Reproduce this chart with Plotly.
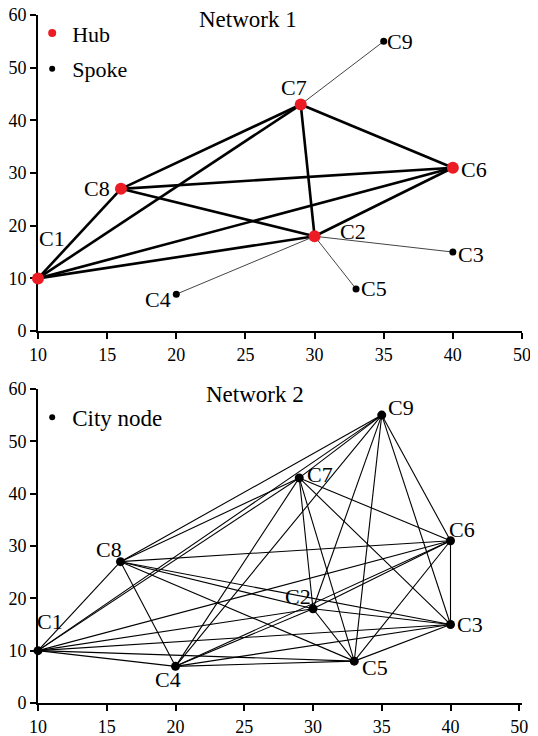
import plotly.graph_objects as go

# ---------------- data ----------------
nodes = ["C1", "C2", "C3", "C4", "C5", "C6", "C7", "C8", "C9"]
node_x = [10, 30, 40, 20, 33, 40, 29, 16, 35]
node_y = [10, 18, 15, 7, 8, 31, 43, 27, 55]

hubs = ["C1", "C2", "C6", "C7", "C8"]
spokes = ["C3", "C4", "C5", "C9"]

hub_edges = [("C1", "C2"), ("C1", "C6"), ("C1", "C7"), ("C1", "C8"),
             ("C2", "C6"), ("C2", "C7"), ("C2", "C8"),
             ("C6", "C7"), ("C6", "C8"), ("C7", "C8")]
spoke_edges = [("C9", "C7"), ("C3", "C2"), ("C5", "C2"), ("C4", "C2")]

net2_edges = [
    ("C1", "C2"), ("C1", "C3"), ("C1", "C4"), ("C1", "C5"), ("C1", "C6"), ("C1", "C7"), ("C1", "C8"), ("C1", "C9"),
    ("C2", "C3"), ("C2", "C4"), ("C2", "C5"), ("C2", "C6"), ("C2", "C7"), ("C2", "C8"), ("C2", "C9"),
    ("C3", "C4"), ("C3", "C5"), ("C3", "C6"), ("C3", "C7"), ("C3", "C8"), ("C3", "C9"),
    ("C4", "C5"), ("C4", "C6"), ("C4", "C7"), ("C4", "C8"), ("C4", "C9"),
    ("C5", "C6"), ("C5", "C7"), ("C5", "C8"), ("C5", "C9"),
    ("C6", "C7"), ("C6", "C8"), ("C6", "C9"),
    ("C7", "C8"), ("C7", "C9"),
    ("C8", "C9"),
]

x_tickvals = [10, 15, 20, 25, 30, 35, 40, 45]
x_ticktext = ["10", "15", "20", "25", "30", "35", "40", "50"]
y_tickvals = [0, 10, 20, 30, 40, 50, 60]

titles = ["Network 1", "Network 2"]

# ---------------- styles ----------------
FONT = "Liberation Serif, Times New Roman, serif"
RED = "rgb(236,28,36)"
label_off_1 = {"C1": (14, -40), "C8": (-24, 0), "C7": (-7, -17), "C6": (21, 2), "C9": (16, 0),
               "C2": (38, -5), "C3": (18, 2), "C5": (18, 0), "C4": (-18, 5)}
label_off_2 = {"C1": (12, -29), "C8": (-12, -12), "C4": (-8, 13), "C2": (-15, -12), "C7": (21, -3),
               "C9": (19, -8), "C6": (11, -11), "C3": (19, 0), "C5": (21, 6)}

X = dict(zip(nodes, node_x))
Y = dict(zip(nodes, node_y))


def edge_xy(edges):
    xs, ys = [], []
    for a, b in edges:
        xs += [X[a], X[b], None]
        ys += [Y[a], Y[b], None]
    return xs, ys


fig = go.Figure()

# ---- Network 1 ----
ex, ey = edge_xy(spoke_edges)
fig.add_trace(go.Scatter(x=ex, y=ey, mode="lines", line=dict(color="#444444", width=1),
                         showlegend=False, hoverinfo="skip", xaxis="x", yaxis="y", cliponaxis=False))
ex, ey = edge_xy(hub_edges)
fig.add_trace(go.Scatter(x=ex, y=ey, mode="lines", line=dict(color="black", width=2.6),
                         showlegend=False, hoverinfo="skip", xaxis="x", yaxis="y", cliponaxis=False))
fig.add_trace(go.Scatter(x=[X[n] for n in spokes], y=[Y[n] for n in spokes], mode="markers",
                         marker=dict(color="black", size=7), showlegend=False,
                         xaxis="x", yaxis="y", cliponaxis=False))
fig.add_trace(go.Scatter(x=[X[n] for n in hubs], y=[Y[n] for n in hubs], mode="markers",
                         marker=dict(color=RED, size=12), showlegend=False,
                         xaxis="x", yaxis="y", cliponaxis=False))
# legend entries
fig.add_trace(go.Scatter(x=[None], y=[None], mode="markers", marker=dict(color=RED, size=8),
                         name="Hub", legend="legend", legendgroup="a", xaxis="x", yaxis="y"))
fig.add_trace(go.Scatter(x=[None], y=[None], mode="markers", marker=dict(color="black", size=6),
                         name="Spoke", legend="legend", legendgroup="b", xaxis="x", yaxis="y"))

# ---- Network 2 ----
ex, ey = edge_xy(net2_edges)
fig.add_trace(go.Scatter(x=ex, y=ey, mode="lines", line=dict(color="black", width=1.1),
                         showlegend=False, hoverinfo="skip", xaxis="x2", yaxis="y2", cliponaxis=False))
fig.add_trace(go.Scatter(x=node_x, y=node_y, mode="markers", marker=dict(color="black", size=9),
                         showlegend=False, xaxis="x2", yaxis="y2", cliponaxis=False))
fig.add_trace(go.Scatter(x=[None], y=[None], mode="markers", marker=dict(color="black", size=6),
                         name="City node", legend="legend2", xaxis="x2", yaxis="y2"))

LABEL_SIZE = 22
annotations = []
for n in nodes:
    dx, dy = label_off_1[n]
    annotations.append(dict(x=X[n], y=Y[n], xref="x", yref="y", text=n, showarrow=False,
                            xshift=dx, yshift=-dy, font=dict(family=FONT, size=LABEL_SIZE, color="black")))
    dx, dy = label_off_2[n]
    annotations.append(dict(x=X[n], y=Y[n], xref="x2", yref="y2", text=n, showarrow=False,
                            xshift=dx, yshift=-dy, font=dict(family=FONT, size=LABEL_SIZE, color="black")))

annotations.append(dict(x=0.434, y=0.994, xref="paper", yref="paper", text=titles[0], showarrow=False,
                        xanchor="center", yanchor="middle", font=dict(family=FONT, size=23, color="black")))
annotations.append(dict(x=0.448, y=0.449, xref="paper", yref="paper", text=titles[1], showarrow=False,
                        xanchor="center", yanchor="middle", font=dict(family=FONT, size=23, color="black")))

axis_common = dict(showline=True, linecolor="black", linewidth=2, ticks="outside", ticklen=6,
                   tickwidth=2, tickcolor="black", showgrid=False, zeroline=False, layer="below traces",
                   automargin=False, ticklabeloverflow="allow",
                   tickfont=dict(family=FONT, size=18, color="black"))

# the page adds an 8px body margin, so the figure is laid out 8px smaller
fig.update_layout(
    width=530, height=728,
    margin=dict(l=30, r=16, t=7, b=33, autoexpand=False),
    paper_bgcolor="white", plot_bgcolor="white",
    xaxis=dict(domain=[0, 1], anchor="y", range=[10, 45], tickvals=x_tickvals, ticktext=x_ticktext, **axis_common),
    yaxis=dict(domain=[0.5406, 1], anchor="x", range=[0, 60], tickvals=y_tickvals, **axis_common),
    xaxis2=dict(domain=[0, 1], anchor="y2", range=[10, 45.2], tickvals=x_tickvals, ticktext=x_ticktext,
                ticklabelstandoff=0, **axis_common),
    yaxis2=dict(domain=[0, 0.4565], anchor="x2", range=[0, 60], tickvals=y_tickvals, **axis_common),
    legend=dict(x=-0.012, xanchor="left", y=1.004, yanchor="top", bgcolor="rgba(0,0,0,0)",
                font=dict(family=FONT, size=22, color="black"), tracegroupgap=4, traceorder="grouped"),
    legend2=dict(x=-0.012, xanchor="left", y=0.4464, yanchor="top", bgcolor="rgba(0,0,0,0)",
                 font=dict(family=FONT, size=23, color="black")),
    annotations=annotations,
    showlegend=True,
)

fig.write_html("out.html")
